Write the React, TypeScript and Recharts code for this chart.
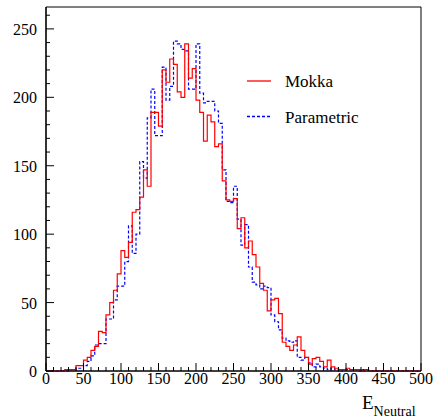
import { LineChart, Line, XAxis, YAxis, ReferenceArea, Legend } from "recharts";

// histogram of E_Neutral, 5-unit bins from 0 to 500
const BIN_WIDTH = 5;

const mokka = [
  0, 0, 0, 0, 0, 1, 1, 1, 4, 4,
  8, 10, 15, 18, 29, 28, 41, 50, 59, 71,
  88, 83, 94, 116, 118, 127, 147, 135, 189, 189,
  179, 220, 211, 228, 224, 204, 200, 239, 214, 221,
  198, 189, 168, 187, 182, 164, 166, 139, 125, 124,
  126, 104, 112, 90, 95, 85, 76, 64, 59, 44,
  52, 53, 42, 21, 18, 15, 19, 25, 15, 10,
  5, 9, 10, 7, 3, 8, 3, 2, 1, 1,
  2, 1, 1, 1, 0, 1, 0, 0, 0, 0,
  0, 0, 0, 0, 0, 0, 0, 0, 0, 0,
];

const parametric = [
  0, 0, 0, 0, 0, 0, 1, 1, 2, 2,
  4, 7, 11, 19, 20, 20, 38, 38, 52, 62,
  62, 80, 106, 86, 100, 153, 141, 185, 206, 172,
  172, 222, 198, 208, 241, 239, 235, 234, 206, 206,
  239, 203, 196, 197, 197, 190, 181, 147, 124, 123,
  135, 111, 92, 107, 76, 65, 63, 60, 62, 61,
  41, 36, 30, 24, 22, 21, 22, 10, 8, 10,
  6, 3, 5, 3, 2, 1, 2, 1, 0, 1,
  1, 1, 1, 0, 1, 1, 0, 0, 0, 0,
  0, 0, 0, 0, 0, 0, 0, 0, 0, 0,
];

const xTicks = [
  0, 10, 20, 30, 40, 50, 60, 70, 80, 90, 100, 110, 120, 130, 140, 150, 160, 170, 180, 190,
  200, 210, 220, 230, 240, 250, 260, 270, 280, 290, 300, 310, 320, 330, 340, 350, 360, 370,
  380, 390, 400, 410, 420, 430, 440, 450, 460, 470, 480, 490, 500,
];
const yTicks = [
  0, 10, 20, 30, 40, 50, 60, 70, 80, 90, 100, 110, 120, 130, 140, 150, 160, 170, 180, 190,
  200, 210, 220, 230, 240, 250, 260,
];

const FONT = "'Liberation Serif', 'Times New Roman', serif";
const txt = { fontFamily: FONT, fill: "#000" };
const PLOT_LEFT = 46;
const PLOT_BOTTOM = 371;

// one point per bin edge, the last one closes the final step
const data = mokka.map((m, i) => ({ x: i * BIN_WIDTH, mokka: m, parametric: parametric[i] }));
data.push({ x: mokka.length * BIN_WIDTH, mokka: mokka[mokka.length - 1], parametric: parametric[parametric.length - 1] });

const XTick = ({ x, payload }: any) => {
  const v = payload.value;
  const major = v % 50 === 0;
  return (
    <g>
      <line x1={x} x2={x} y1={PLOT_BOTTOM} y2={PLOT_BOTTOM - (major ? 8 : 4)} stroke="#000" />
      {major && (
        <text x={x} y={PLOT_BOTTOM + 13} textAnchor="middle" style={{ ...txt, fontSize: 16 }}>
          {v}
        </text>
      )}
    </g>
  );
};

const YTick = ({ y, payload }: any) => {
  const v = payload.value;
  const major = v % 50 === 0;
  return (
    <g>
      <line x1={PLOT_LEFT} x2={PLOT_LEFT + (major ? 8 : 4)} y1={y} y2={y} stroke="#000" />
      {major && (
        <text x={PLOT_LEFT - 9} y={y + 6} textAnchor="end" style={{ ...txt, fontSize: 16 }}>
          {v}
        </text>
      )}
    </g>
  );
};

const LegendBox = () => (
  <svg width={130} height={70} style={{ display: "block" }}>
    <line x1={7} x2={31} y1={21} y2={21} stroke="#ff0000" strokeWidth={1.3} />
    <text x={45} y={27} style={{ ...txt, fontSize: 17 }}>Mokka</text>
    <line x1={7} x2={31} y1={56.5} y2={56.5} stroke="#0000ff" strokeWidth={1.3} strokeDasharray="3 2" />
    <text x={45} y={63} style={{ ...txt, fontSize: 17 }}>Parametric</text>
  </svg>
);

export default function App() {
  return (
    <div style={{ position: "absolute", left: 0, top: 0, background: "#fff" }}>
      <LineChart width={436} height={419} data={data} margin={{ top: 7, right: 15, left: 0, bottom: 0 }}>
        <XAxis
          dataKey="x"
          type="number"
          domain={[0, 500]}
          ticks={xTicks}
          interval={0}
          tick={<XTick />}
          tickLine={false}
          tickSize={0}
          tickMargin={0}
          height={48}
          axisLine={{ stroke: "#000", strokeWidth: 1.2 }}
        />
        <YAxis
          type="number"
          domain={[0, 266]}
          ticks={yTicks}
          interval={0}
          tick={<YTick />}
          tickLine={false}
          tickSize={0}
          tickMargin={0}
          width={46}
          axisLine={{ stroke: "#000", strokeWidth: 1.2 }}
        />
        <ReferenceArea x1={0} x2={500} y1={0} y2={266} fill="none" stroke="#000" strokeWidth={1} />
        <Legend
          layout="vertical"
          align="center"
          verticalAlign="middle"
          wrapperStyle={{ left: 240, top: 60, width: 130 }}
          content={<LegendBox />}
        />
        <Line
          type="stepAfter"
          dataKey="parametric"
          stroke="#0000ff"
          strokeWidth={1.2}
          strokeDasharray="3 2"
          dot={false}
          isAnimationActive={false}
        />
        <Line
          type="stepAfter"
          dataKey="mokka"
          stroke="#ff0000"
          strokeWidth={1.2}
          dot={false}
          isAnimationActive={false}
        />
      </LineChart>
      <svg width={436} height={419} style={{ position: "absolute", left: 0, top: 0, pointerEvents: "none" }}>
        <text x={362} y={409} style={{ ...txt, fontSize: 19 }}>
          E<tspan dy={7} style={{ fontSize: 14 }}>Neutral</tspan>
        </text>
      </svg>
    </div>
  );
}
